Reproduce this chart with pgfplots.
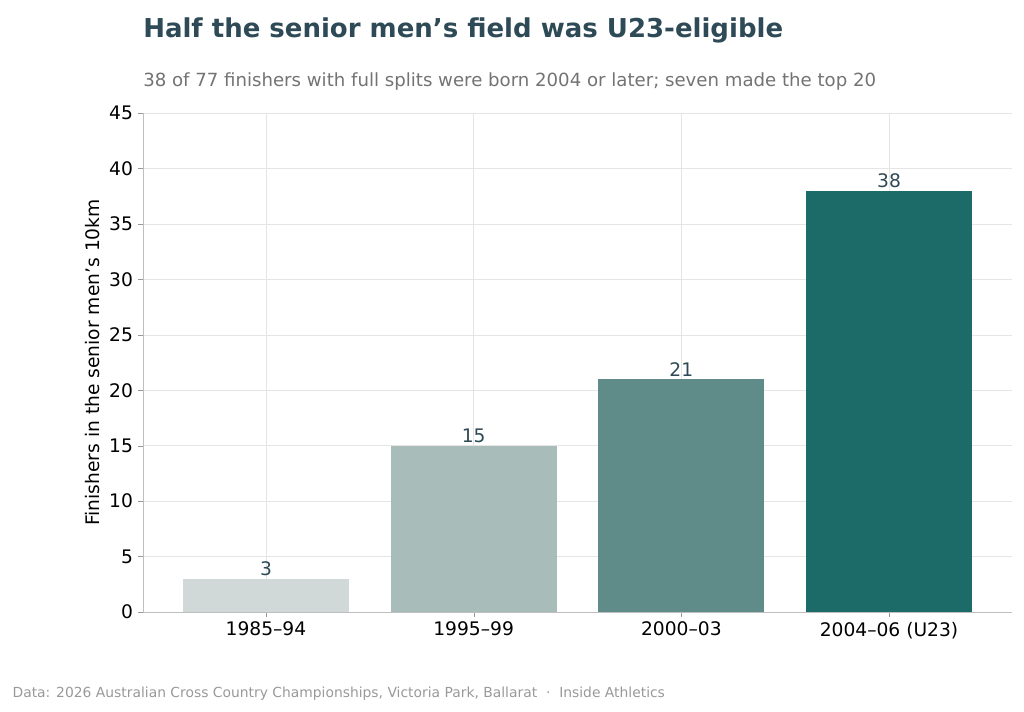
\documentclass[border=0pt]{standalone}
\usepackage{pgfplots}
\pgfplotsset{compat=1.18}
\usepackage{fontspec}
\setmainfont{DejaVu Sans}
\definecolor{c1}{HTML}{D0D9D7}
\definecolor{c2}{HTML}{A8BDBA}
\definecolor{c3}{HTML}{5F8B88}
\definecolor{c4}{HTML}{1C6B69}
\definecolor{ttl}{HTML}{2E4A56}
\begin{document}
\begin{tikzpicture}
\useasboundingbox (-107.25pt,-74.25pt) rectangle (660.75pt,459pt);
\node[anchor=base west,font=\bfseries\fontsize{19.5}{22}\selectfont,text=ttl,inner sep=0] at (0pt,431pt) {Half the senior men’s field was U23-eligible};
\node[anchor=base west,font=\fontsize{13.6}{15}\selectfont,text=black!55,inner sep=0] at (0pt,394pt) {38 of 77 finishers with full splits were born 2004 or later; seven made the top 20};
\node[anchor=base west,font=\fontsize{10.4}{12}\selectfont,text=black!40,inner sep=0] at (-98pt,-64pt) {Data: 2026 Australian Cross Country Championships, Victoria Park, Ballarat \ · \ Inside Athletics};
\begin{axis}[at={(0,0)},anchor=south west,scale only axis,width=651.75pt,height=374.25pt,
 xmin=-0.592,xmax=3.592,ymin=0,ymax=45,
 xtick={0,1,2,3},xticklabels={1985–94,1995–99,2000–03,2004–06 (U23)},
 ytick={0,5,...,45},
 /pgf/number format/assume math mode=true,
 ticklabel style={font=\fontsize{14}{16}\selectfont},
 grid=major,major grid style={black!10},
 axis line style={black!25},
 axis x line*=bottom, axis y line*=left,
 tick style={black!40},major tick length=4pt,tick align=outside,
 ylabel={Finishers in the senior men’s 10km},
 ylabel style={font=\fontsize{14}{16}\selectfont},
 every node near coord/.append style={font=\fontsize{14}{16}\selectfont,text=ttl,inner sep=2pt},
 nodes near coords,
]
\addplot[ybar,bar width=0.8,fill=c1,draw=none] coordinates {(0,3)};
\addplot[ybar,bar width=0.8,fill=c2,draw=none] coordinates {(1,15)};
\addplot[ybar,bar width=0.8,fill=c3,draw=none] coordinates {(2,21)};
\addplot[ybar,bar width=0.8,fill=c4,draw=none] coordinates {(3,38)};
\end{axis}
\end{tikzpicture}
\end{document}
